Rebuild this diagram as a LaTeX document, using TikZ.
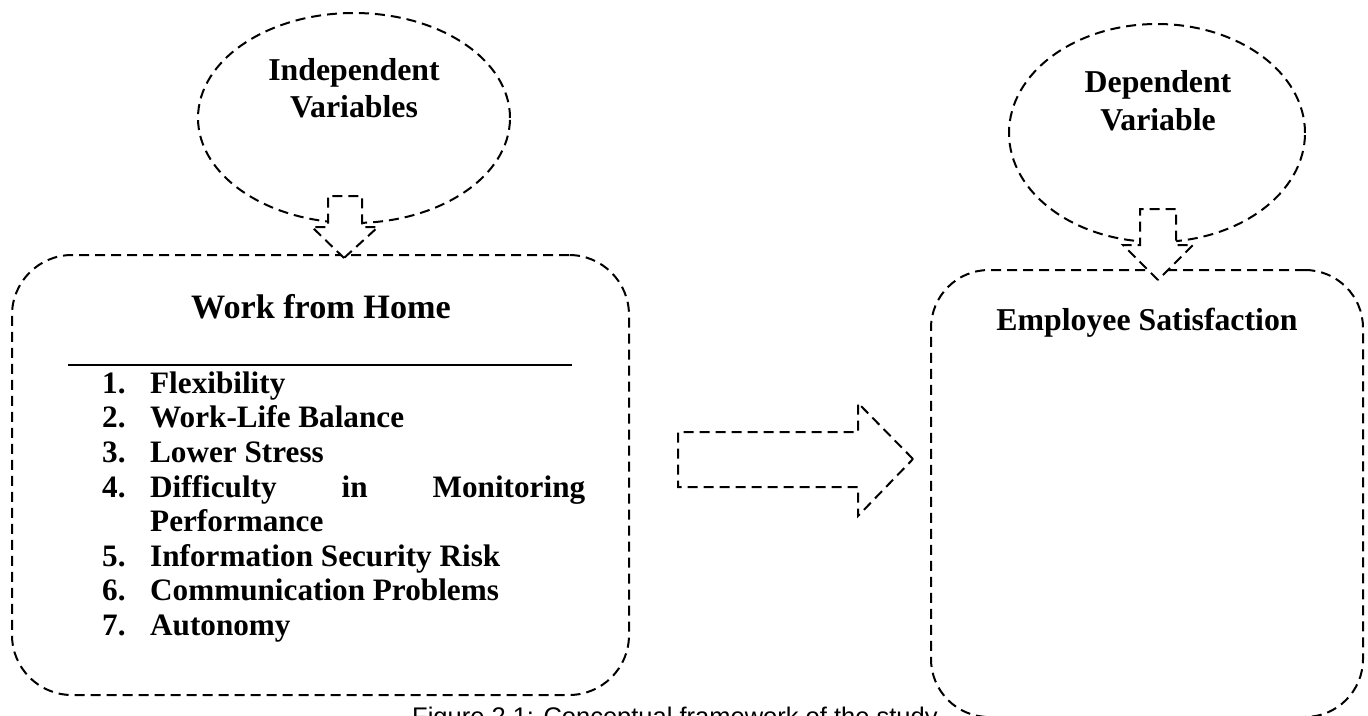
\documentclass[tikz,border=0pt]{standalone}
\usepackage{fontspec}
\setmainfont{Liberation Serif}
\newfontfamily\capfont{Liberation Sans}
\usetikzlibrary{shapes.geometric}

\begin{document}
\begin{tikzpicture}[x=1pt,y=-1pt,
  dashline/.style={line width=2pt, dash pattern=on 10pt off 6pt},
  oval/.style={ellipse, draw, dashline, inner sep=0pt},
  roundbox/.style={rectangle, draw, dashline, inner sep=0pt, rounded corners=60pt},
  fatarrow/.style={draw, dashline, fill=white, line join=miter},
  txt/.style={inner sep=0pt, anchor=base, font=\bfseries\fontsize{31.8}{36}\selectfont},
  item/.style={inner sep=0pt, anchor=base west, font=\bfseries\fontsize{31.2}{35}\selectfont}]
\useasboundingbox (0,0) rectangle (1368,715);
% the two ovals
\node [oval, minimum width=312pt, minimum height=210pt] (indep) at (354,118) {};
\node [oval, minimum width=296pt, minimum height=218pt] (dep) at (1157,133) {};
\node [txt] (indepA) at (354,80) {Independent};
\node [txt] (indepB) at (354,117) {Variables};
\node [txt] (depA) at (1158,92) {Dependent};
\node [txt] (depB) at (1158,130) {Variable};
% the two boxes
\node [roundbox, minimum width=617pt, minimum height=440pt] (wfh) at (320.5,475) {};
\node [roundbox, rounded corners=58pt, minimum width=432pt, minimum height=447pt] (sat) at (1147,493.5) {};
\node [txt, font=\bfseries\fontsize{34.2}{40}\selectfont] (wfhlbl) at (321,318) {Work from Home};
\draw [line width=2pt] (68,365) -- (572,365);
\node [item] (it1) at (102,393) {\makebox[48pt][l]{1.}Flexibility};
\node [item] (it2) at (102,427.5) {\makebox[48pt][l]{2.}Work-Life Balance};
\node [item] (it3) at (102,462) {\makebox[48pt][l]{3.}Lower Stress};
\node [item] (it4) at (102,497) {\makebox[48pt][l]{4.}\makebox[435pt][s]{Difficulty in Monitoring}};
\node [item] (it4b) at (150,531) {Performance};
\node [item] (it5) at (102,566) {\makebox[48pt][l]{5.}Information Security Risk};
\node [item] (it6) at (102,600) {\makebox[48pt][l]{6.}Communication Problems};
\node [item] (it7) at (102,635) {\makebox[48pt][l]{7.}Autonomy};
\node [txt] (satlbl) at (1147,330) {Employee Satisfaction};
% block arrows
\coordinate (tipL) at (344,258);
\coordinate (tipR) at (1158,280);
\coordinate (tipM) at (913,459);
\draw [fatarrow] (tipL) -- ++(-32,-31) -- ++(16,0) -- ++(0,-31) -- ++(34,0) -- ++(0,31) -- ++(16,0) -- cycle;
\draw [fatarrow] (tipR) -- ++(-35,-35) -- ++(17,0) -- ++(0,-36) -- ++(36,0) -- ++(0,36) -- ++(17,0) -- cycle;
\draw [fatarrow] (tipM) -- ++(-55,-56) -- ++(0,29) -- ++(-180,0) -- ++(0,55) -- ++(180,0) -- ++(0,29) -- cycle;
% caption, cut by the page edge
\node [inner sep=0pt, anchor=base west, font=\capfont\fontsize{25.5}{30}\selectfont] (caption) at (412,725) {Figure 2.1: Conceptual framework of the study};
\end{tikzpicture}
\end{document}
